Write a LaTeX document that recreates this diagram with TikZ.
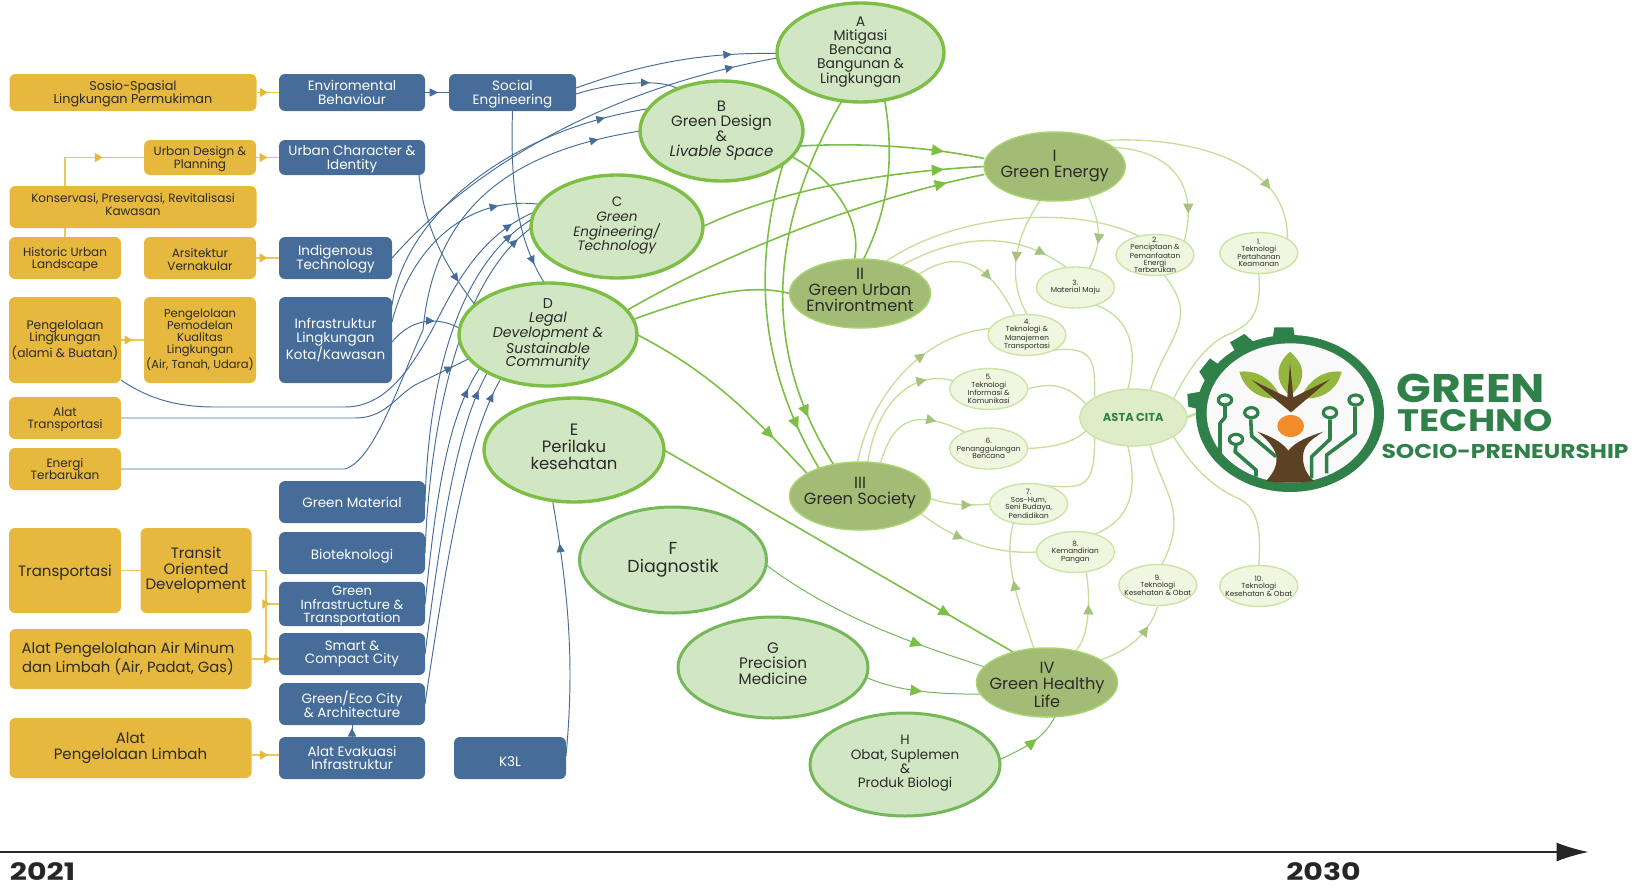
\documentclass[tikz,border=0pt]{standalone}
\usepackage{fontspec}
\usepackage{graphicx}
\setmainfont{Poppins}
\usetikzlibrary{shapes.geometric,arrows.meta,decorations.markings,calc}
\pgfdeclarelayer{bg}\pgfsetlayers{bg,main}
\definecolor{yel}{HTML}{E6B83E}
\definecolor{yelline}{HTML}{F0C75E}
\definecolor{blu}{HTML}{466C9A}
\definecolor{bigfill}{HTML}{D1E6C3}
\definecolor{bigline}{HTML}{7DBE45}
\definecolor{bigline2}{HTML}{74B85A}
\definecolor{dkfill}{HTML}{A2BB75}
\definecolor{dkline}{HTML}{A8D46F}
\definecolor{smfill}{HTML}{F1F6E0}
\definecolor{smline}{HTML}{CBE4A6}
\definecolor{astafill}{HTML}{DFECC8}
\definecolor{lgline}{HTML}{C6E09C}
\definecolor{lgtip}{HTML}{A6C27C}
\definecolor{grnline}{HTML}{7DBE45}
\definecolor{logog}{HTML}{2F8049}
\definecolor{leaf}{HTML}{94B63E}
\definecolor{brn}{HTML}{5C4223}
\definecolor{orng}{HTML}{F28C2B}
\definecolor{txt}{HTML}{2B2B2B}
\newcommand\setfs[2]{\fontsize{#1}{#2}\selectfont}
\newcommand\liftup[1]{\rule[-#1pt]{0pt}{0pt}}
\tikzset{
 tipbl/.tip={Triangle[length=8.5pt,width=8pt,color=blu]},
 tipgr/.tip={Triangle[length=12pt,width=11pt,color=grnline]},
 tiplg/.tip={Triangle[length=10pt,width=10pt,color=lgtip]},
 tipye/.tip={Triangle[length=8pt,width=9pt,color=yel]},
 mb/.style={postaction={decorate},decoration={markings,mark=at position #1 with {\arrow{tipbl}}}},
 mg/.style={postaction={decorate},decoration={markings,mark=at position #1 with {\arrow{tipgr}}}},
 ml/.style={postaction={decorate},decoration={markings,mark=at position #1 with {\arrow{tiplg}}}},
 my/.style={postaction={decorate},decoration={markings,mark=at position #1 with {\arrow{tipye}}}},
 bl/.style={draw=blu,line width=0.95pt},
 gl/.style={draw=grnline,line width=1.6pt},
 gt/.style={draw=bigline2,line width=1pt},
 ll/.style={draw=lgline,line width=1.35pt},
 yl/.style={draw=yelline,line width=1.4pt},
 ybox/.style={rectangle,rounded corners=6pt,fill=yel,text=txt,align=center,inner sep=0pt,outer sep=0pt},
 bbox/.style={rectangle,rounded corners=6pt,fill=blu,text=white,align=center,inner sep=0pt,outer sep=0pt},
 big/.style={ellipse,fill=bigfill,draw=bigline,line width=3.4pt,text=txt,align=center,inner sep=-14pt,outer sep=0pt},
 dk/.style={ellipse,fill=dkfill,draw=dkline,line width=1.5pt,text=txt,align=center,inner sep=-14pt,outer sep=0pt},
 sm/.style={ellipse,fill=smfill,draw=smline,line width=1.4pt,text=txt,align=center,inner sep=-8pt,outer sep=0pt,minimum width=78pt,minimum height=41pt,font=\setfs{7.3}{7.4}},
}
\begin{document}
\begin{tikzpicture}[x=1pt,y=-1pt]
\useasboundingbox (0,0) rectangle (1638,886);
% boxes
\node[ybox,minimum width=247pt,minimum height=37pt,font=\setfs{12.8}{13.4}] (sosio) at (133,92.5) {\rule{0pt}{13pt}Sosio-Spasial\\Lingkungan Permukiman};
\node[bbox,minimum width=146pt,minimum height=37pt,font=\setfs{13.5}{13.8}] (envi) at (352,92.5) {Enviromental\\Behaviour};
\node[bbox,minimum width=127pt,minimum height=37pt,font=\setfs{13.5}{13.8}] (social) at (512.5,92.5) {\rule{0pt}{14pt}Social\\Engineering};
\node[ybox,minimum width=112pt,minimum height=35pt,font=\setfs{12}{12.8}] (ud) at (200,157.5) {\rule{0pt}{12pt}Urban Design \&\\Planning};
\node[bbox,minimum width=146pt,minimum height=35pt,font=\setfs{13.5}{13.8}] (uc) at (352,157.5) {\rule{0pt}{13pt}Urban Character \&\\Identity};
\node[ybox,minimum width=247pt,minimum height=42pt,font=\setfs{12}{12.8}] (kons) at (133,207) {Konservasi, Preservasi, Revitalisasi\\Kawasan\liftup{5}};
\node[ybox,minimum width=112pt,minimum height=42pt,font=\setfs{12}{12.8}] (hist) at (65,258) {\rule{0pt}{12pt}Historic Urban\\Landscape};
\node[ybox,minimum width=112pt,minimum height=42pt,font=\setfs{12}{12.8}] (ars) at (200,258) {\rule{0pt}{12pt}Arsitektur\\Vernakular};
\node[bbox,minimum width=113pt,minimum height=42pt,font=\setfs{13.5}{13.8}] (indig) at (335.5,258) {\rule{0pt}{13pt}Indigenous\\Technology};
\node[ybox,minimum width=112pt,minimum height=86pt,font=\setfs{12.3}{12.8}] (peng) at (65,340) {Pengelolaan\\Lingkungan\\(alami \& Buatan)};
\node[ybox,minimum width=112pt,minimum height=86pt,font=\setfs{11.5}{12}] (pemo) at (200,340) {Pengelolaan\\Pemodelan\\Kualitas\\Lingkungan\\(Air, Tanah, Udara)};
\node[bbox,minimum width=113pt,minimum height=86pt,font=\setfs{13.5}{14}] (infra) at (335.5,340) {Infrastruktur\\Lingkungan\\Kota/Kawasan};
\node[ybox,minimum width=112pt,minimum height=42pt,font=\setfs{12}{12.8}] (alat) at (65,418) {\rule{0pt}{12pt}Alat\\Transportasi};
\node[ybox,minimum width=112pt,minimum height=42pt,font=\setfs{12}{12.8}] (energi) at (65,469) {Energi\\Terbarukan};
\node[bbox,minimum width=146pt,minimum height=42pt,font=\setfs{13.5}{13.8}] (gm) at (352,502) {Green Material};
\node[bbox,minimum width=146pt,minimum height=42pt,font=\setfs{13.5}{13.8}] (bio) at (352,553) {\rule{0pt}{17pt}Bioteknologi};
\node[ybox,minimum width=112pt,minimum height=85pt,font=\setfs{15}{15.3}] (trans) at (65,570.5) {\rule{0pt}{15pt}Transportasi};
\node[ybox,minimum width=111pt,minimum height=85pt,font=\setfs{15}{15.3}] (tod) at (196,570.5) {Transit\\Oriented\\Development\liftup{4}};
\node[bbox,minimum width=146pt,minimum height=42pt,font=\setfs{13.2}{13.3}] (gi) at (352,604) {\rule{0pt}{14pt}Green\\Infrastructure \&\\Transportation};
\node[ybox,minimum width=242pt,minimum height=60pt,font=\setfs{14.8}{15}] (air) at (130.5,659) {\hspace*{-5pt}Alat Pengelolahan Air Minum\\\hspace*{-5pt}dan Limbah (Air, Padat, Gas)};
\node[bbox,minimum width=146pt,minimum height=42pt,font=\setfs{13.5}{13.8}] (smart) at (352,654) {Smart \&\\Compact City};
\node[bbox,minimum width=146pt,minimum height=42pt,font=\setfs{13.5}{13.8}] (eco) at (352,704) {Green/Eco City\\\& Architecture};
\node[ybox,minimum width=242pt,minimum height=60pt,font=\setfs{15}{15.3}] (limbah) at (130.5,748) {Alat\\Pengelolaan Limbah};
\node[bbox,minimum width=146pt,minimum height=42pt,font=\setfs{13.5}{13.8}] (evak) at (352,758) {Alat Evakuasi\\Infrastruktur};
\node[bbox,minimum width=112pt,minimum height=42pt,font=\setfs{13.5}{13.8}] (k3l) at (510,758) {\rule{0pt}{17pt}K3L};
% big ellipses
\node[big,minimum width=167pt,minimum height=99pt,font=\setfs{14}{13.5}] (A) at (860.5,52.5) {A\\Mitigasi\\Bencana\\Bangunan \&\\Lingkungan\liftup{4}};
\node[big,minimum width=163pt,minimum height=100pt,font=\setfs{15}{15}] (B) at (721.5,131) {B\\Green Design\\\&\\\textit{Livable Space}\liftup{5}};
\node[big,minimum width=172pt,minimum height=103pt,font=\setfs{13.6}{14.6}] (C) at (617,226.5) {C\\\textit{Green}\\\textit{Engineering/}\\\textit{Technology}\liftup{5}};
\node[big,minimum width=178pt,minimum height=103pt,font=\setfs{14.2}{13.6}] (D) at (548,334.5) {D\\\textit{Legal}\\\textit{Development \&}\\\textit{Sustainable}\\\textit{Community}};
\node[big,minimum width=180pt,minimum height=104pt,font=\setfs{16.5}{17}] (E) at (574,450) {E\\Perilaku\\kesehatan\liftup{6}};
\node[big,line width=3pt,draw=bigline2,minimum width=187pt,minimum height=106pt,font=\setfs{17.4}{17.5}] (F) at (673,560) {F\\Diagnostik};
\node[big,line width=3pt,draw=bigline2,minimum width=190pt,minimum height=101pt,font=\setfs{15.2}{15.3}] (G) at (773,667.5) {G\\Precision\\Medicine\liftup{8}};
\node[big,line width=3pt,draw=bigline2,minimum width=190pt,minimum height=103pt,font=\setfs{13.5}{14.2}] (H) at (905,764.5) {H\\Obat, Suplemen\\\&\\Produk Biologi\liftup{6}};
\node[dk,minimum width=141pt,minimum height=69pt,font=\setfs{16.2}{16}] (I) at (1054.7,166.5) {I\\Green Energy};
\node[dk,minimum width=141pt,minimum height=69pt,font=\setfs{16.2}{16}] (II) at (860,293.5) {II\\Green Urban\\Environtment\liftup{8}};
\node[dk,minimum width=141pt,minimum height=68pt,font=\setfs{16.2}{16}] (III) at (860,496) {III\\Green Society\liftup{10}};
\node[dk,minimum width=141pt,minimum height=69pt,font=\setfs{16.2}{16}] (IV) at (1047,682.5) {\rule{0pt}{16pt}IV\\Green Healthy\\Life};
% small ellipses
\node[sm] (n1) at (1258.8,253) {1.\\Teknologi\\Pertahanan\\Keamanan};
\node[sm] (n2) at (1155,255) {2.\\Penciptaan \&\\Pemanfaatan\\Energi\\Terbarukan};
\node[sm] (n3) at (1075.4,287.5) {3.\\Material Maju};
\node[sm] (n4) at (1027,335) {4.\\Teknologi \&\\Manajemen\\Transportasi};
\node[sm] (n5) at (988.7,389) {5.\\Teknologi\\Informasi \&\\Komunikasi};
\node[sm] (n6) at (988.7,448.5) {6.\\Penanggulangan\\Bencana};
\node[sm] (n7) at (1028.7,504) {7.\\Sos-Hum,\\Seni Budaya,\\Pendidikan};
\node[sm] (n8) at (1075.4,552) {8.\\Kemandirian\\Pangan};
\node[sm] (n9) at (1157.8,585) {9.\\Teknologi\\Kesehatan \& Obat};
\node[sm] (n10) at (1258.8,586) {10.\\Teknologi\\Kesehatan \& Obat};
\node[ellipse,fill=astafill,draw=smline,line width=1.4pt,inner sep=-8pt,outer sep=0pt,minimum width=107pt,minimum height=57pt,text=logog,font=\bfseries\setfs{11.5}{12}] (asta) at (1133.3,417.5) {ASTA CITA};
% logo
\node[ellipse,fill=logog,inner sep=0pt,outer sep=0pt,minimum width=188pt,minimum height=157pt] (logo) at (1290,413.5) {};
\begin{scope}[shift={(1180,310)},x=.3333pt,y=-.3333pt]
\fill[logog] (278,85)--(283,52)--(340,52)--(345,85)--cycle;
\fill[logog] (150,97)--(193,72)--(220,95)--(172,135)--cycle;
\fill[logog] (58,185)--(90,145)--(125,170)--(85,228)--cycle;
\fill[logog] (22,252)--(62,245)--(65,300)--(25,290)--cycle;
\fill[white!95!gray] (331,309) ellipse [x radius=251,y radius=209];
\fill[leaf] (330,258) .. controls (270,200) and (300,150) .. (330,125) .. controls (360,150) and (395,200) .. (330,258);
\fill[leaf] (178,185) .. controls (250,178) and (290,230) .. (302,265) .. controls (230,272) and (190,230) .. (178,185);
\fill[leaf] (485,185) .. controls (415,178) and (375,230) .. (362,265) .. controls (435,272) and (475,230) .. (485,185);
\fill[brn] (330,160)--(340,262)--(450,208)--(333,307)--(215,210)--(322,262)--cycle;
\fill[orng] (332,348) ellipse [x radius=40,y radius=33];
\fill[brn] (258,513) .. controls (290,480) and (295,450) .. (285,425) .. controls (270,395) and (250,380) .. (232,365) .. controls (270,378) and (305,395) .. (325,422) .. controls (345,395) and (390,378) .. (430,365) .. controls (400,385) and (375,400) .. (370,430) .. controls (365,465) and (380,495) .. (402,513) .. controls (350,520) and (300,520) .. (258,513);
\begin{scope}[draw=logog,line width=3.6pt,line join=round]
\draw (120,432)--(120,340)--(135,322)--(135,288);
\draw (228,500)--(228,480)--(165,425)--(168,408);
\draw (288,440)--(215,378)--(212,328);
\draw (395,505)--(395,440)--(450,388)--(450,328);
\draw (440,490)--(440,435)--(525,372)--(525,290);
\draw[fill=white!95!gray,line width=3.2pt] (135,270) ellipse [x radius=20,y radius=15];
\draw[fill=white!95!gray,line width=3.2pt] (168,388) ellipse [x radius=20,y radius=15];
\draw[fill=white!95!gray,line width=3.2pt] (214,308) ellipse [x radius=20,y radius=15];
\draw[fill=white!95!gray,line width=3.2pt] (450,308) ellipse [x radius=20,y radius=15];
\draw[fill=white!95!gray,line width=3.2pt] (527,270) ellipse [x radius=20,y radius=15];
\end{scope}
\end{scope}
\node[text=logog,font=\bfseries\setfs{40}{40},inner sep=0pt] (lg1) at (1471,388.5) {\scalebox{1.14}[1]{GREEN}};
\node[text=logog,font=\bfseries\setfs{31}{31},inner sep=0pt] (lg2) at (1475,421) {\scalebox{1.2}[1]{TECHNO}};
\node[text=logog,font=\bfseries\setfs{20}{20},inner sep=0pt] (lg3) at (1505,451) {\scalebox{1.17}[1]{SOCIO-PRENEURSHIP}};
% timeline
\coordinate (t0) at (0,852);
\coordinate (t1) at (1588.5,852);
\draw[line width=1.4pt,color=black!85,-{Latex[length=32pt,width=19pt]}] (t0) -- (t1);
\node[font=\bfseries\setfs{24}{24},text=black!85,inner sep=0pt] (y1) at (42.5,871.5) {\scalebox{1.25}[1]{2021}};
\node[font=\bfseries\setfs{24}{24},text=black!85,inner sep=0pt] (y2) at (1323.5,871.5) {\scalebox{1.25}[1]{2030}};
\begin{pgfonlayer}{bg}
% yellow
\draw[yl,my=0.5] (sosio) -- (envi);
\draw[yl,my=0.5] (ud) -- (uc);
\draw[yl,my=0.5] (ars) -- (indig);
\draw[yl,my=0.5] (peng) -- (pemo);
\draw[yl,my=0.74] (hist.north) |- (ud.west);
\draw[yl] (trans) -- (tod);
\coordinate (jt) at (266,570.5);
\draw[yl,my=0.86] (tod.east) -- (jt) -- (jt |- gi.west) -- (gi.west);
\draw[yl] (jt |- gi.west) -- (jt |- air.east);
\draw[yl,my=0.75] (air.east) -- (air.east -| smart.west);
\draw[yl,my=0.6] ([yshift=-7pt]limbah.east) -- ([yshift=3pt]evak.west);
% blue
\draw[bl,mb=0.55] (envi) -- (social);
\draw[bl,mb=0.75] (evak) -- (eco);
\draw[bl,mb=0.78] ([yshift=4.5pt]social.east) .. controls (640,65) and (700,52) .. ([yshift=-1pt]A.west);
\draw[bl,mb=0.72] ([yshift=-1.5pt]social.east) .. controls (610,83) and (660,78) .. (B.136);
\draw[bl,mb=0.9] (indig.east) .. controls (470,170) and (600,90) .. ([yshift=-5.5pt]A.west);
\draw[bl,mb=0.87] ([yshift=35pt]infra.east) .. controls (405,215) and (510,130) .. (B.163);
\draw[bl,mb=0.94] (energi.east) -- (345,469) .. controls (375,460) and (400,380) .. (423,330) .. controls (435,200) and (520,150) .. (B.west);
\draw[bl,mb=0.8] ([yshift=18pt]infra.east) .. controls (410,250) and (465,195) .. (C.164);
\draw[bl,mb=0.95] ([yshift=-40pt]peng.east) .. controls (150,400) and (180,407) .. (215,407) -- (345,407) .. controls (385,407) and (410,370) .. (432,330) .. controls (455,285) and (480,235) .. (C.170);
\draw[bl,mb=0.92] (gm.east) .. controls (428,400) and (450,270) .. (C.175);
\draw[bl,mb=0.95] (bio.east) .. controls (430,420) and (460,280) .. (C.181);
\draw[bl,mb=0.9] (gi.east) .. controls (435,510) and (445,420) .. (D.-154);
\draw[bl,mb=0.93] (smart.east) .. controls (440,540) and (455,430) .. (D.-148);
\draw[bl,mb=0.95] (eco.east) .. controls (445,570) and (465,440) .. (D.-137);
\draw[bl,mb=0.65] ([yshift=-2pt]infra.east) .. controls (410,320) and (435,315) .. (D.176);
\draw[bl,mb=0.95] (alat.east) -- (355,418) .. controls (385,418) and (395,397) .. (415,385) -- (D.-163);
\draw[bl,mb=0.8] ([xshift=-6pt]uc.south east) .. controls (425,230) and (445,265) .. (D.158);
\draw[bl,mb=0.88] (social.south) .. controls (510,190) and (518,240) .. (D.94);
\draw[bl,mb=0.83] ([yshift=2pt]k3l.east) .. controls (575,660) and (568,590) .. (E.-113);
% green
\draw[gl,mg=0.78] (B.-11) .. controls (850,143) and (920,145) .. ([yshift=8pt]I.west);
\draw[gl,mg=0.86] (C.east) .. controls (780,190) and (880,172) .. (I.west);
\draw[gl,mg=0.9] (D.17) .. controls (740,245) and (880,195) .. ([yshift=-8pt]I.west);
\draw[gl] (D.10) .. controls (700,295) and (750,283) .. (II.west);
\draw[gl] (B.-20) .. controls (835,180) and (862,220) .. (II.99);
\draw[gl] (A.-63) .. controls (895,160) and (888,210) .. (II.84);
\draw[gl,mg=0.86] (A.-111) .. controls (775,215) and (755,340) .. (III.130);
\draw[gl,mg=0.86] (B.-28) .. controls (755,260) and (755,360) .. (III.146);
\draw[gl,mg=0.78] (D.east) .. controls (695,365) and (735,395) .. (III.157);
\draw[gl,mg=0.82] (E.east) -- (IV.138);
\begin{scope}[xshift=9.84pt,x=.988pt]
\draw[gt,mg=0.73] (F.-3) .. controls (840,620) and (920,645) .. (IV.166);
\draw[gt,mg=0.5] (G.-6) .. controls (900,692) and (940,694) .. (IV.-170);
\draw[gt,mg=0.6] (H.3) .. controls (1035,745) and (1048,735) .. (IV.-77);
% light green
\draw[ll,ml=0.77] (I.29) .. controls (1190,135) and (1295,160) .. (n1.26);
\draw[ll,ml=0.8] (I.18) .. controls (1170,150) and (1205,180) .. (n2.25);
\draw[ll,ml=0.65] (I.-42) .. controls (1105,225) and (1105,245) .. (n3.54);
\draw[ll,ml=0.55] (I.-113) .. controls (1015,240) and (1010,280) .. (n4.90);
\draw[ll] (II.51) .. controls (960,212) and (1080,205) .. (n2.130);
\draw[ll,ml=0.86] (II.34) .. controls (965,232) and (1020,232) .. (n3.114);
\draw[ll,ml=0.65] (II.18) .. controls (950,255) and (985,250) .. (n4.122);
\draw[ll,ml=0.65] (III.94) .. controls (870,400) and (920,335) .. (n4.170);
\draw[ll,ml=0.8] (III.77) .. controls (878,400) and (915,370) .. (n5.167);
\draw[ll,ml=0.72] (III.58) .. controls (893,425) and (910,405) .. (n6.145);
\draw[ll,ml=0.7] (III.-2) .. controls (950,505) and (970,506) .. (n7.west);
\draw[ll,ml=0.4] (III.-16) .. controls (950,535) and (990,555) .. (n8.west);
\draw[ll,ml=0.55] (IV.111) .. controls (1020,600) and (1005,560) .. (n7.-129);
\draw[ll,ml=0.6] (IV.48) .. controls (1090,640) and (1095,610) .. (n8.-61);
\draw[ll,ml=0.72] (IV.23) .. controls (1135,650) and (1155,630) .. (n9.south);
\draw[ll] (n3.-41) .. controls (1135,318) and (1142,350) .. (asta.101);
\draw[ll] (n2.-66) .. controls (1205,320) and (1172,335) .. (asta.58);
\draw[ll] (n1.south) .. controls (1268,320) and (1250,325) .. (1237,333) .. controls (1215,340) and (1195,365) .. (asta.25);
\draw[ll] (n4.-30) .. controls (1100,345) and (1098,365) .. (asta.153);
\draw[ll] (n5.east) .. controls (1060,380) and (1075,390) .. (asta.164);
\draw[ll] (n6.east) .. controls (1065,447) and (1078,440) .. (asta.-164);
\draw[ll] (n7.48) .. controls (1090,490) and (1098,485) .. (asta.-153);
\draw[ll] (n8.43) .. controls (1135,520) and (1142,490) .. (asta.-101);
\draw[ll] (n9.79) .. controls (1195,510) and (1165,490) .. (asta.-58);
\draw[ll] (n10.north) .. controls (1267,525) and (1262,505) .. (1240,497) .. controls (1215,485) and (1195,465) .. (asta.-25);
\end{scope}
\draw[ll,line width=2.5pt] (asta.east) -- (logo.west);
\end{pgfonlayer}
\end{tikzpicture}
\end{document}
